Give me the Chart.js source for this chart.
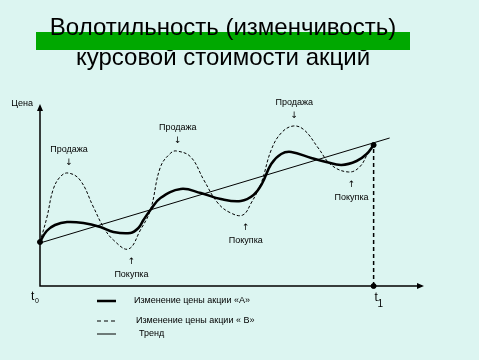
<!DOCTYPE html>
<html>
<head>
<meta charset="utf-8">
<script src="https://cdn.jsdelivr.net/npm/chart.js@4"></script>
<style>
  html, body { margin: 0; padding: 0; background: #dcf5f1; }
  #wrap { width: 479px; height: 360px; }
</style>
</head>
<body>
<div id="wrap"><canvas id="chart" width="479" height="360"></canvas></div>
<script>
// time runs from t0 = 0 to t1 = 100, price in arbitrary units
const stockA = [
  [0, 4.4], [2.0, 5.5], [4.5, 6.1], [8.1, 6.4], [13.0, 6.3], [18.1, 5.9],
  [22.0, 5.4], [27.1, 5.3], [29.5, 5.8], [31.0, 6.6], [33.1, 7.6], [36.1, 8.8],
  [42.2, 9.7], [48.2, 9.3], [54.2, 8.7], [60.2, 8.5], [64.0, 9.1], [66.5, 10.2],
  [69.3, 12.2], [72.3, 13.2], [75.3, 13.4], [81.3, 12.8], [85.8, 12.4],
  [90.4, 12.1], [94.9, 12.5], [97.9, 13.2], [100, 14.1]
];
const stockB = [
  [0, 4.4], [2.1, 6.9], [3.9, 9.6], [6.0, 10.9], [8.4, 11.3], [12.0, 10.6],
  [16.0, 7.9], [19.0, 5.9], [22.0, 4.6], [26.5, 3.7], [30.1, 5.6], [33.1, 7.6],
  [36.1, 11.9], [39.2, 13.3], [41.0, 13.5], [45.2, 12.9], [49.1, 10.6],
  [53.3, 8.3], [57.2, 7.3], [60.8, 7.1], [63.3, 8.3], [66.3, 10.3], [69.3, 13.6],
  [72.3, 15.3], [75.9, 16.0], [79.2, 15.6], [83.4, 13.8], [87.3, 12.1],
  [92.5, 11.4], [95.8, 11.9], [98.5, 13.4], [100, 14.1]
];
const trend = [[0, 4.3], [104.8, 14.8]];
const t1Line = [[100, 0], [100, 14.1]];
const markers = [[0, 4.4], [100, 14.1], [100, 0]];

const titleLines = ['Волотильность (изменчивость)', 'курсовой стоимости акций'];
const sellLabel = 'Продажа';
const buyLabel = 'Покупка';
const legendLabels = ['Изменение цены акции «А»', 'Изменение цены акции « В»', 'Тренд'];

const toXY = arr => arr.map(([x, y]) => ({ x, y }));
const FONT = '"Liberation Sans", Arial, sans-serif';

// background, title, axes
const decorBefore = {
  id: 'decorBefore',
  beforeDraw(chart) {
    const { ctx, chartArea: a } = chart;
    ctx.save();
    ctx.fillStyle = '#dcf5f1';
    ctx.fillRect(0, 0, chart.width, chart.height);

    ctx.fillStyle = '#000';
    ctx.font = '24px ' + FONT;
    ctx.textAlign = 'center';
    ctx.textBaseline = 'alphabetic';
    ctx.fillText(titleLines[1], 223, 65);
    ctx.fillStyle = '#00a800';
    ctx.fillRect(36, 32, 374, 18);
    ctx.fillStyle = '#000';
    ctx.fillText(titleLines[0], 223, 35);

    // axes with arrow heads
    ctx.strokeStyle = '#000';
    ctx.lineWidth = 1.5;
    ctx.beginPath();
    ctx.moveTo(a.left, a.top + 4);
    ctx.lineTo(a.left, a.bottom);
    ctx.lineTo(a.right, a.bottom);
    ctx.stroke();
    ctx.beginPath();
    ctx.moveTo(a.left, a.top);
    ctx.lineTo(a.left - 3, a.top + 7);
    ctx.lineTo(a.left + 3, a.top + 7);
    ctx.closePath();
    ctx.moveTo(a.right + 2, a.bottom);
    ctx.lineTo(a.right - 5, a.bottom - 3);
    ctx.lineTo(a.right - 5, a.bottom + 3);
    ctx.closePath();
    ctx.fillStyle = '#000';
    ctx.fill();
    ctx.restore();
  }
};

// buy/sell notes, axis names, legend
const decorAfter = {
  id: 'decorAfter',
  afterDraw(chart) {
    const { ctx, chartArea: a } = chart;
    const xs = chart.scales.x, ys = chart.scales.y;
    ctx.save();
    ctx.fillStyle = '#000';
    ctx.textBaseline = 'middle';
    ctx.textAlign = 'center';

    for (let i = 1; i < stockB.length - 1; i++) {
      const y = stockB[i][1];
      const px = xs.getPixelForValue(stockB[i][0]);
      const py = ys.getPixelForValue(y);
      if (y > stockB[i - 1][1] && y > stockB[i + 1][1]) {
        ctx.font = '9px "DejaVu Sans", sans-serif';
        ctx.fillText('↓', px + 1, py - 10);
        ctx.font = '9px ' + FONT;
        ctx.fillText(sellLabel, px + 1, py - 23);
      } else if (y < stockB[i - 1][1] && y < stockB[i + 1][1]) {
        ctx.font = '9px "DejaVu Sans", sans-serif';
        ctx.fillText('↑', px + 3, py + 13);
        ctx.font = '9px ' + FONT;
        ctx.fillText(buyLabel, px + 3, py + 26);
      }
    }

    ctx.font = '9px ' + FONT;
    ctx.textAlign = 'right';
    ctx.fillText('Цена', a.left - 7, a.top);

    // t0 and t1
    ctx.textAlign = 'left';
    ctx.font = '12px ' + FONT;
    ctx.fillText('t', a.left - 9, a.bottom + 11);
    ctx.fillText('t', xs.getPixelForValue(100) + 1, a.bottom + 12);
    ctx.font = '7px ' + FONT;
    ctx.fillText('0', a.left - 5, a.bottom + 15);
    ctx.font = '10px ' + FONT;
    ctx.fillText('1', xs.getPixelForValue(100) + 4, a.bottom + 18);

    // legend
    const rows = [
      { y: 301, w: 2.5, dash: [], tx: 134 },
      { y: 321, w: 1, dash: [4, 3], tx: 136 },
      { y: 334, w: 1, dash: [], tx: 139 }
    ];
    ctx.strokeStyle = '#000';
    rows.forEach((r, i) => {
      ctx.lineWidth = r.w;
      ctx.setLineDash(r.dash);
      ctx.beginPath();
      ctx.moveTo(97, r.y);
      ctx.lineTo(116, r.y);
      ctx.stroke();
      ctx.setLineDash([]);
      ctx.font = '9px ' + FONT;
      ctx.fillText(legendLabels[i], r.tx, r.y);
    });
    ctx.restore();
  }
};

new Chart(document.getElementById('chart'), {
  type: 'line',
  data: {
    datasets: [
      { label: 'A', data: toXY(stockA), borderColor: '#000', borderWidth: 2.5, tension: 0.4, pointRadius: 0 },
      { label: 'B', data: toXY(stockB), borderColor: '#000', borderWidth: 1, borderDash: [3, 2], tension: 0.4, pointRadius: 0 },
      { label: 'Тренд', data: toXY(trend), borderColor: '#000', borderWidth: 1, pointRadius: 0 },
      { label: 't1', data: toXY(t1Line), borderColor: '#000', borderWidth: 1.5, borderDash: [4, 3], pointRadius: 0 },
      { label: 'marks', data: toXY(markers), showLine: false, pointRadius: 2.5, pointBackgroundColor: '#000', pointBorderColor: '#000' }
    ]
  },
  options: {
    responsive: false,
    animation: false,
    events: [],
    clip: false,
    layout: { padding: { left: 40, right: 57, top: 104, bottom: 74 } },
    plugins: { legend: { display: false }, tooltip: { enabled: false } },
    scales: {
      x: { type: 'linear', display: false, min: 0, max: 114.5 },
      y: { type: 'linear', display: false, min: 0, max: 18.2 }
    }
  },
  plugins: [decorBefore, decorAfter]
});
</script>
</body>
</html>
